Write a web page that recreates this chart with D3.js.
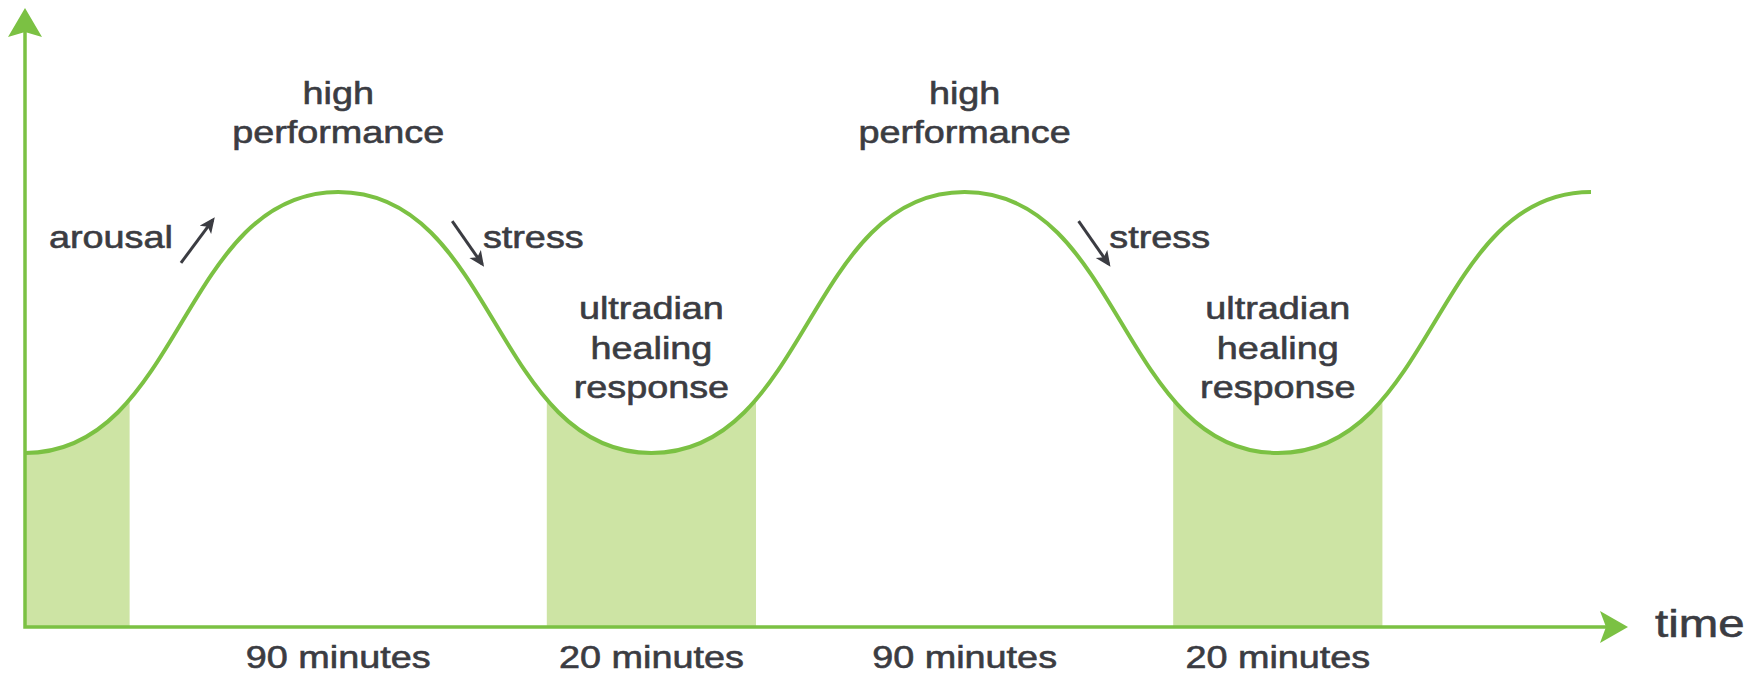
<!DOCTYPE html>
<html>
<head>
<meta charset="utf-8">
<script src="https://cdn.jsdelivr.net/npm/d3@7"></script>
<style>
  html, body { margin: 0; padding: 0; background: #fff; }
  svg { display: block; }
  .lbl { font-family: "Liberation Sans", Arial, sans-serif; fill: #3b3c42; stroke: #3b3c42; stroke-width: 0.6px; }
</style>
</head>
<body>
<div id="vis"></div>
<script>
// ultradian rhythm: cycle position (in cycles) and arousal level at each turning point
var cyclePos = [0, 0.5, 1, 1.5, 2, 2.5];
var levels = [40, 100, 40, 100, 40, 100];

// shaded recovery windows, in cycles
var bandStart = [0, 0.833, 1.833];
var bandEnd = [0.167, 1.167, 2.167];

// labels under the time axis
var durationPos = [0.5, 1, 1.5, 2];
var durationLabels = ['90 minutes', '20 minutes', '90 minutes', '20 minutes'];

var peakPos = [0.5, 1.5];
var peakLines = ['high', 'performance'];
var troughPos = [1, 2];
var troughLines = ['ultradian', 'healing', 'response'];

// small arrows next to the rising / falling parts
var arrows = [
  { label: 'arousal', from: [0.249, 83.7], to: [0.300, 93.6], text: [0.236, 87.1], anchor: 'end' },
  { label: 'stress', from: [0.682, 93.3], to: [0.730, 83.4], text: [0.731, 87.1], anchor: 'start' },
  { label: 'stress', from: [1.682, 93.3], to: [1.730, 83.4], text: [1.731, 87.1], anchor: 'start' }
];

var width = 1754;
var height = 674;
var green = '#7bc143';
var fillGreen = '#cde4a4';
var ink = '#3b3c42';
var stretch = 1.2; // the lettering is wide

var x = d3.scaleLinear().domain([0, 2.5]).range([25, 1591]);
var y = d3.scaleLinear().domain([0, 100]).range([627, 192]);

var svg = d3.select('#vis')
  .append('svg')
  .attr('width', width)
  .attr('height', height);

var points = cyclePos.map(function(t, i) { return { t: t, v: levels[i] }; });

var area = d3.area()
  .x(function(d) { return x(d.t); })
  .y0(y(0))
  .y1(function(d) { return y(d.v); })
  .curve(d3.curveBumpX);

var line = d3.line()
  .x(function(d) { return x(d.t); })
  .y(function(d) { return y(d.v); })
  .curve(d3.curveBumpX);

svg.append('defs').append('clipPath')
  .attr('id', 'under')
  .append('path')
  .attr('d', area(points));

svg.select('defs').append('marker')
  .attr('id', 'head')
  .attr('viewBox', '0 0 10 10')
  .attr('refX', 8)
  .attr('refY', 5)
  .attr('markerWidth', 5.2)
  .attr('markerHeight', 5.2)
  .attr('orient', 'auto')
  .append('path')
  .attr('d', 'M0,0.5L10,5L0,9.5L2.5,5Z')
  .attr('fill', ink);

// shaded windows under the curve
svg.append('g')
  .attr('clip-path', 'url(#under)')
  .selectAll('rect')
  .data(bandStart)
  .enter().append('rect')
  .attr('x', function(d) { return x(d); })
  .attr('y', 0)
  .attr('width', function(d, i) { return x(bandEnd[i]) - x(d); })
  .attr('height', y(0))
  .attr('fill', fillGreen);

// axes with arrow heads
var tipX = x.range()[1] + 37;
var tipY = 8;
svg.append('path')
  .attr('d', 'M' + x(0) + ',' + (tipY + 20) + 'V' + y(0) + 'H' + (tipX - 20))
  .attr('fill', 'none')
  .attr('stroke', green)
  .attr('stroke-width', 3.5);

svg.append('path')
  .attr('d', 'M' + x(0) + ',' + tipY + 'l-17,29l17,-5l17,5Z')
  .attr('fill', green);
svg.append('path')
  .attr('d', 'M' + tipX + ',' + y(0) + 'l-28,-16l6,16l-6,16Z')
  .attr('fill', green);

// the rhythm curve
svg.append('path')
  .attr('d', line(points))
  .attr('fill', 'none')
  .attr('stroke', green)
  .attr('stroke-width', 4);

function wideText(g, tx, ty, str, size, anchor) {
  return g.append('text')
    .attr('class', 'lbl')
    .attr('transform', 'translate(' + tx + ',' + ty + ') scale(' + stretch + ',1)')
    .attr('text-anchor', anchor || 'middle')
    .style('font-size', size + 'px')
    .text(str);
}

var labels = svg.append('g');

peakPos.forEach(function(t) {
  wideText(labels, x(t), y(120.2), peakLines[0], 31.5);
  wideText(labels, x(t), y(111.3), peakLines[1], 31.5);
});

troughPos.forEach(function(t) {
  troughLines.forEach(function(s, i) {
    wideText(labels, x(t), y(70.8 - i * 9.1), s, 31.5);
  });
});

durationPos.forEach(function(t, i) {
  wideText(labels, x(t), y(0) + 41, durationLabels[i], 31.5);
});

arrows.forEach(function(a) {
  svg.append('line')
    .attr('x1', x(a.from[0])).attr('y1', y(a.from[1]))
    .attr('x2', x(a.to[0])).attr('y2', y(a.to[1]))
    .attr('stroke', ink)
    .attr('stroke-width', 3)
    .attr('marker-end', 'url(#head)');
  wideText(labels, x(a.text[0]), y(a.text[1]), a.label, 31.5, a.anchor);
});

wideText(labels, tipX + 27, y(0) + 10, 'time', 39.5, 'start');
</script>
</body>
</html>
